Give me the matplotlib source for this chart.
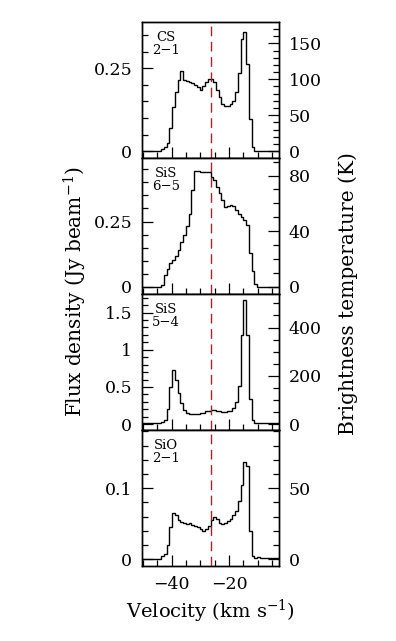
import numpy as np
import matplotlib
matplotlib.use('Agg')
import matplotlib.pyplot as plt
from matplotlib.ticker import MultipleLocator, FuncFormatter

plt.rcParams['font.family'] = ['DejaVu Serif']
plt.rcParams['mathtext.fontset'] = 'dejavuserif'

# channel centres (km/s)
velocity = [-49.87, -48.92, -47.96, -47.01, -46.05, -45.10, -44.14, -43.19, -42.23, -41.28,
            -40.32, -39.37, -38.41, -37.46, -36.50, -35.55, -34.59, -33.64, -32.68, -31.73,
            -30.77, -29.82, -28.86, -27.91, -26.95, -26.00, -25.04, -24.09, -23.13, -22.18,
            -21.22, -20.27, -19.31, -18.36, -17.40, -16.45, -15.49, -14.54, -13.58, -12.63,
            -11.67, -10.72, -9.76, -8.81, -7.85, -6.90, -5.94, -4.99, -4.03, -3.08]

# flux densities (Jy/beam)
cs_21 = [0.0, 0.0, 0.0, 0.0, 0.0, 0.0, 0.0, 0.005, 0.012, 0.025,
         0.069, 0.134, 0.178, 0.215, 0.242, 0.215, 0.211, 0.209, 0.206, 0.200,
         0.193, 0.186, 0.196, 0.209, 0.218, 0.218, 0.210, 0.183, 0.163, 0.142,
         0.137, 0.137, 0.142, 0.152, 0.178, 0.236, 0.338, 0.361, 0.264, 0.097,
         0.012, 0.0, 0.0, 0.0, 0.0, 0.0, 0.0, 0.0, 0.0, 0.0]

sis_65 = [0.0, 0.0, 0.0, 0.0, 0.0, 0.0, 0.0, 0.005, 0.043, 0.066,
          0.089, 0.101, 0.117, 0.142, 0.170, 0.199, 0.231, 0.280, 0.370, 0.443,
          0.443, 0.438, 0.440, 0.438, 0.441, 0.421, 0.411, 0.383, 0.358, 0.332,
          0.307, 0.309, 0.315, 0.309, 0.294, 0.279, 0.266, 0.254, 0.237, 0.129,
          0.060, 0.009, 0.0, 0.0, 0.0, 0.0, 0.0, 0.0, 0.0, 0.0]

sis_54 = [0.01, 0.01, 0.01, 0.01, 0.01, 0.01, 0.01, 0.03, 0.06, 0.20,
          0.50, 0.73, 0.59, 0.42, 0.28, 0.195, 0.155, 0.14, 0.137, 0.133,
          0.133, 0.146, 0.155, 0.173, 0.18, 0.186, 0.186, 0.177, 0.173, 0.164,
          0.164, 0.173, 0.182, 0.218, 0.30, 0.52, 1.20, 1.665, 1.20, 0.34,
          0.05, 0.01, 0.01, 0.01, 0.01, 0.01, 0.01, 0.01, 0.01, 0.01]

sio_21 = [0.001, 0.001, 0.001, 0.001, 0.001, 0.001, 0.001, 0.005, 0.0075, 0.02,
          0.045, 0.065, 0.062, 0.055, 0.052, 0.051, 0.050, 0.051, 0.049, 0.047,
          0.045, 0.042, 0.040, 0.042, 0.047, 0.055, 0.059, 0.057, 0.051, 0.050,
          0.051, 0.054, 0.057, 0.062, 0.068, 0.082, 0.105, 0.137, 0.132, 0.04,
          0.005, 0.002, 0.003, 0.002, 0.002, 0.002, 0.002, 0.002, 0.002, 0.002]

line_names = ['CS\n2\u22121', 'SiS\n6\u22125', 'SiS\n5\u22124', 'SiO\n2\u22121']
spectra = [cs_21, sis_65, sis_54, sio_21]
# Jy -> K conversion per line
k_per_jy = [461.0, 187.8, 308.0, 500.0]
v_sys = -26.2


def main():
    fig = plt.figure(figsize=(3.96, 6.41), dpi=100)
    W, H = 396.0, 641.0
    left, right = 142 / W, 279 / W
    top_px, panel_px = 22.0, 136.0

    # (ylim, left major, left minor, right major, right minor)
    settings = [((-0.021, 0.39), 0.25, 0.05, 50, 10),
                ((-0.028, 0.4935), 0.25, 0.05, 40, 10),
                ((-0.078, 1.75), 0.5, 0.1, 200, 50),
                ((-0.0094, 0.182), 0.1, 0.02, 50, 10)]

    vel = np.array(velocity)
    dv = np.diff(vel).mean()
    edges = np.concatenate([[vel[0] - dv / 2], (vel[1:] + vel[:-1]) / 2, [vel[-1] + dv / 2]])

    for i, (flux, name, fac, st) in enumerate(zip(spectra, line_names, k_per_jy, settings)):
        ylim, lmaj, lmin, rmaj, rmin = st
        y0 = 1 - (top_px + panel_px * (i + 1)) / H
        ax = fig.add_axes([left, y0, right - left, panel_px / H])
        ax.stairs(flux, edges, baseline=None, color='k', lw=1.0)
        ax.axvline(v_sys, color='#a3262e', lw=1.0, dashes=(7, 4))
        ax.set_xlim(-50.35, -2.6)
        ax.set_ylim(*ylim)
        ax.xaxis.set_major_locator(MultipleLocator(20))
        ax.xaxis.set_minor_locator(MultipleLocator(5))
        ax.yaxis.set_major_locator(MultipleLocator(lmaj))
        ax.yaxis.set_minor_locator(MultipleLocator(lmin))
        ax.yaxis.set_major_formatter(FuncFormatter(lambda v, p: '%g' % round(v, 3)))
        ax.tick_params(which='both', direction='in', top=False, right=False, labelsize=12.5)
        ax.tick_params(which='major', length=8, width=0.9, pad=7)
        ax.tick_params(which='minor', length=4.5, width=0.9)
        ax.tick_params(axis='x', which='major', pad=7.5)
        if i < 3:
            ax.tick_params(axis='x', labelbottom=False)
        ax.text(0.175, 0.835, name, transform=ax.transAxes, ha='center', va='center',
                fontsize=9.5, multialignment='center', linespacing=1.0)

        ax2 = ax.twinx()
        ax2.set_ylim(ylim[0] * fac, ylim[1] * fac)
        ax2.yaxis.set_major_locator(MultipleLocator(rmaj))
        ax2.yaxis.set_minor_locator(MultipleLocator(rmin))
        ax2.tick_params(which='both', direction='in', labelsize=12.5)
        ax2.tick_params(which='major', length=8, width=0.9, pad=7)
        ax2.tick_params(which='minor', length=4.5, width=0.9)
        for a in (ax, ax2):
            for s in a.spines.values():
                s.set_linewidth(1.0)

    fig.text(75 / W, 1 - 292 / H, r'Flux density (Jy beam$^{-1}$)', rotation=90,
             ha='center', va='center', fontsize=14.5)
    fig.text(348 / W, 1 - 294 / H, 'Brightness temperature (K)', rotation=90,
             ha='center', va='center', fontsize=14.5)
    fig.text(210 / W, 1 - 611 / H, r'Velocity (km s$^{-1}$)', ha='center', va='center',
             fontsize=14)

    fig.savefig('out.png', dpi=100)


if __name__ == '__main__':
    main()
